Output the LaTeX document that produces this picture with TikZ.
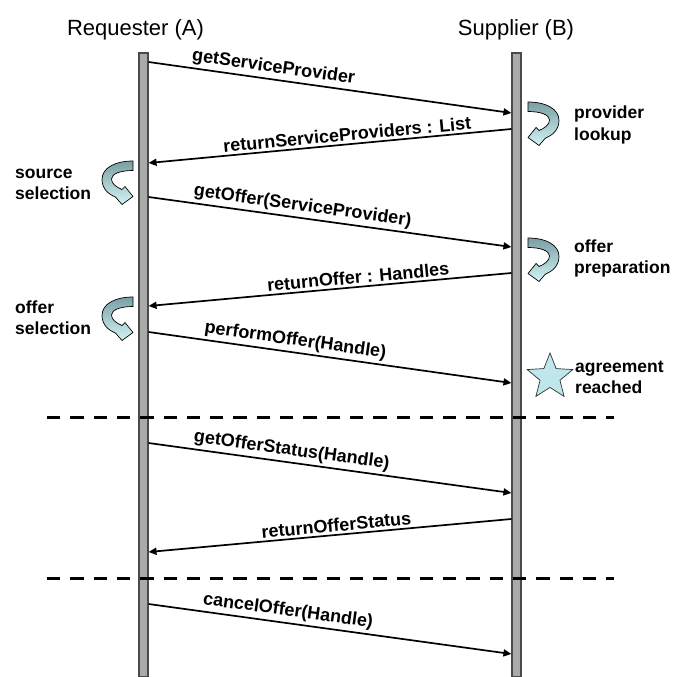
\documentclass[tikz,border=0pt]{standalone}
\usepackage{fontspec}
\setmainfont{Liberation Sans}
\usetikzlibrary{arrows.meta,shapes.geometric}
\definecolor{lifefill}{HTML}{AAAAAA}
\definecolor{lifedraw}{HTML}{4A4A4A}
\definecolor{arrtop}{HTML}{7A9FA4}
\definecolor{arrbot}{HTML}{D2F4F6}
\definecolor{starfill}{HTML}{BFE7EB}
\tikzset{
  lifeline/.style={rectangle, minimum width=9bp, minimum height=624bp, inner sep=0, fill=lifefill, draw=lifedraw, line width=1.1bp},
  msg/.style={line width=1.7bp, -{Triangle[length=8bp,width=7bp]}},
  msglbl/.style={font=\bfseries\fontsize{18bp}{21bp}\selectfont, sloped, above, inner sep=2.5bp},
  sidelbl/.style={font=\bfseries\fontsize{17.5bp}{21bp}\selectfont, align=left, inner sep=0, anchor=base west},
  titlelbl/.style={font=\fontsize{22bp}{25bp}\selectfont, inner sep=0, anchor=base},
  separator/.style={line width=3bp, dash pattern=on 13.3bp off 10bp},
  procarrow/.pic={
    \shade[top color=arrtop, bottom color=arrbot, draw=black, line width=0.7bp]
      (0,0) .. controls (18,0) and (31,7) .. (31,18.5)
      .. controls (31,28) and (24,33.5) .. (17.5,36)
      -- (11,43.5) -- (0,35.5) -- (8,25.5) -- (11,28.5)
      .. controls (17,26) and (21.5,22.5) .. (21.5,18)
      .. controls (21.5,12.5) and (12,9.5) .. (0,9.5) -- cycle;
  }
}
\begin{document}
\begin{tikzpicture}[x=1bp, y=-1bp]
\useasboundingbox (0,0) rectangle (673,677);

% titles
\node[titlelbl] (tA) at (135.5,36) {Requester (A)};
\node[titlelbl] (tB) at (516,36) {Supplier (B)};

% lifelines
\node[lifeline] (LA) at (143.5,365) {};
\node[lifeline] (LB) at (516.5,365) {};

% separators
\coordinate (s1l) at (47,417);
\coordinate (s1r) at (614,417);
\coordinate (s2l) at (47,578);
\coordinate (s2r) at (614,578);
\draw[separator] (s1l) -- (s1r);
\draw[separator] (s2l) -- (s2r);

% message end points
\coordinate (m1a) at (LA.east |- 0,62);   \coordinate (m1b) at (LB.west |- 0,113);
\coordinate (m2b) at (LB.west |- 0,129);  \coordinate (m2a) at (LA.east |- 0,163);
\coordinate (m3a) at (LA.east |- 0,197);  \coordinate (m3b) at (LB.west |- 0,247);
\coordinate (m4b) at (LB.west |- 0,273);  \coordinate (m4a) at (LA.east |- 0,306);
\coordinate (m5a) at (LA.east |- 0,332);  \coordinate (m5b) at (LB.west |- 0,383);
\coordinate (m6a) at (LA.east |- 0,443);  \coordinate (m6b) at (LB.west |- 0,493);
\coordinate (m7b) at (LB.west |- 0,519);  \coordinate (m7a) at (LA.east |- 0,552);
\coordinate (m8a) at (LA.east |- 0,604);  \coordinate (m8b) at (LB.west |- 0,654);

\draw[msg] (m1a) -- node[msglbl, pos=0.34] (l1) {getServiceProvider} (m1b);
\draw[msg] (m2b) -- node[msglbl, pos=0.45] (l2) {returnServiceProviders : List} (m2a);
\draw[msg] (m3a) -- node[msglbl, pos=0.42] (l3) {getOffer(ServiceProvider)} (m3b);
\draw[msg] (m4b) -- node[msglbl, pos=0.42] (l4) {returnOffer : Handles} (m4a);
\draw[msg] (m5a) -- node[msglbl, pos=0.40] (l5) {performOffer(Handle)} (m5b);
\draw[msg] (m6a) -- node[msglbl, pos=0.39] (l6) {getOfferStatus(Handle)} (m6b);
\draw[msg] (m7b) -- node[msglbl, pos=0.48] (l7) {returnOfferStatus} (m7a);
\draw[msg] (m8a) -- node[msglbl, pos=0.38] (l8) {cancelOffer(Handle)} (m8b);

% process arrows
\pic (p1) at (528,102) {procarrow};
\pic (p2) at (528,238) {procarrow};
\pic[xscale=-1] (p3) at (133,161) {procarrow};
\pic[xscale=-1] (p4) at (133,297) {procarrow};

% star
\node[star, star points=5, star point ratio=2.3, minimum size=48bp, inner sep=0, fill=starfill, draw=black!80, line width=0.7bp] (st) at (550,377) {};

% side labels
\node[sidelbl] (n1) at (574,140) {provider\\lookup};
\node[sidelbl] (n2) at (574,273) {offer\\preparation};
\node[sidelbl] (n3) at (15,199) {source\\selection};
\node[sidelbl] (n4) at (15,334) {offer\\selection};
\node[sidelbl] (n5) at (575,393) {agreement\\reached};
\end{tikzpicture}
\end{document}
